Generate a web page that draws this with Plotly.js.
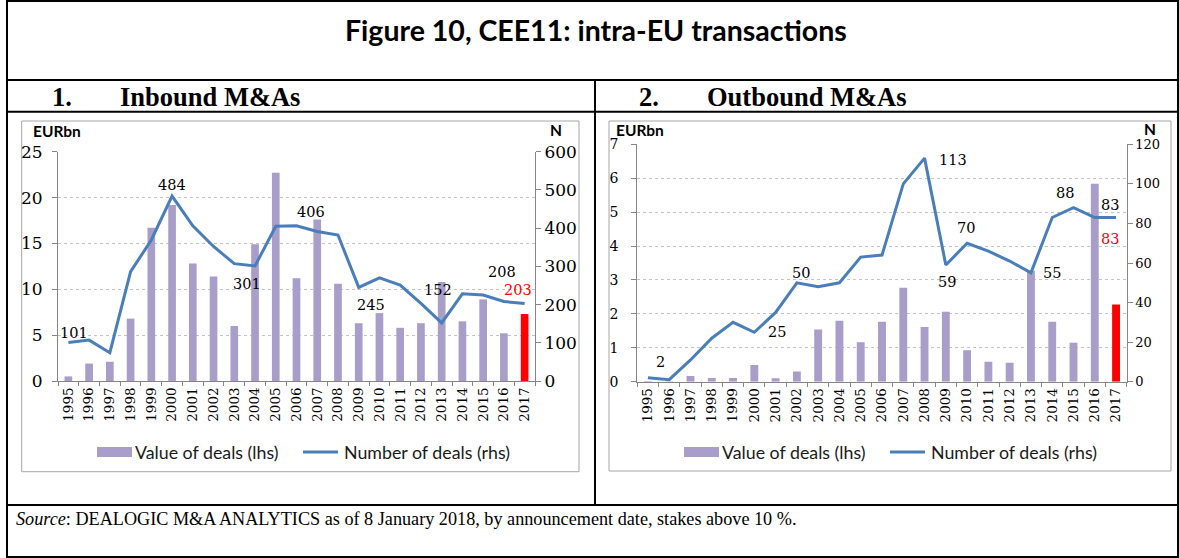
<!DOCTYPE html>
<html><head><meta charset="utf-8">
<script src="https://cdn.plot.ly/plotly-3.0.1.min.js"></script>
<style>html,body{margin:0;padding:0;background:#fff;} #chart{width:1179px;height:558px;}</style>
</head><body><div id="chart"></div>
<script>
// ---- data ----
const years = ['1995','1996','1997','1998','1999','2000','2001','2002','2003','2004','2005','2006','2007','2008','2009','2010','2011','2012','2013','2014','2015','2016','2017'];
const inboundValue = [0.5,1.9,2.1,6.8,16.7,19.2,12.8,11.4,6.0,14.9,22.7,11.2,17.6,10.6,6.3,7.4,5.8,6.3,10.8,6.5,8.9,5.2,7.3];
const inboundDeals = [101,107,74,286,369,484,406,352,307,301,405,406,391,382,245,270,251,203,152,228,225,208,203];
const outboundValue = [0.02,0.01,0.17,0.11,0.11,0.49,0.1,0.3,1.54,1.8,1.16,1.77,2.77,1.61,2.06,0.93,0.59,0.56,3.27,1.77,1.15,5.84,2.28];
const outboundDeals = [2,1,11,22,30,25,35,50,48,50,63,64,100,113,59,70,66,61,55,83,88,83,83];
const inboundLabelYears = ['1995','2000','2004','2006','2009','2013','2016','2017'];
const outboundLabelYears = ['1995','2000','2002','2008','2009','2010','2013','2015','2016','2017'];
const highlightYear = '2017';
const titleText = 'Figure 10, CEE11: intra-EU transactions';
const panel1 = 'Inbound M&amp;As';
const panel2 = 'Outbound M&amp;As';
const legendBar = 'Value of deals (lhs)';
const legendLine = 'Number of deals (rhs)';
const sourceText = '<i>Source</i>: DEALOGIC M&amp;A ANALYTICS as of 8 January 2018, by announcement date, stakes above 10 %.';

// ---- style / layout ----
const W = 1179, H = 558;
const px = x => x / W, py = y => 1 - y / H;
const BAR = '#a99dc9', RED = '#ff0000', LINE = '#4a7ebb', AX = '#868686';
const SERIF = 'DejaVu Serif', SANS = 'Lato';
const barColors = years.map(y => y === highlightYear ? RED : BAR);
const catRange = [-0.5, years.length - 0.5];

const traces = [
  {type:'bar', x:years, y:inboundValue, xaxis:'x', yaxis:'y', marker:{color:barColors}, showlegend:false},
  {type:'scatter', mode:'lines', x:years, y:inboundDeals, xaxis:'x', yaxis:'y2', line:{color:LINE, width:3}, showlegend:false},
  {type:'bar', x:years, y:outboundValue, xaxis:'x2', yaxis:'y3', marker:{color:barColors}, showlegend:false},
  {type:'scatter', mode:'lines', x:years, y:outboundDeals, xaxis:'x2', yaxis:'y4', line:{color:LINE, width:3}, showlegend:false}
];

function xax(domain, anchor){
  return {domain, anchor, type:'category', range:catRange, autorange:false, tickangle:-90,
    tickfont:{family:SERIF, size:13.5, color:'#000'},
    ticks:'outside', tickson:'boundaries', ticklen:4, tickcolor:AX, showline:true, linecolor:AX, linewidth:1,
    showgrid:false, zeroline:false, fixedrange:true};
}
function yaxL(domain, anchor, range, dtick, fs, standoff){
  return {domain, anchor, range, autorange:false, dtick, tick0:0, ticks:'outside', ticklen:5, tickcolor:AX, showline:true, linecolor:AX,
    showgrid:true, gridcolor:'#c4c4c4', griddash:'dot', gridwidth:1, zeroline:false,
    tickfont:{family:SERIF, size:fs, color:'#000'}, ticklabelstandoff:standoff};
}
function yaxR(overlay, anchor, range, dtick, fs, standoff){
  return {overlaying:overlay, side:'right', anchor, range, autorange:false, dtick, tick0:0, ticks:'outside', ticklen:5, tickcolor:AX,
    showline:true, linecolor:AX, showgrid:false, zeroline:false,
    tickfont:{family:SERIF, size:fs, color:'#000'}, ticklabelstandoff:standoff};
}

const annotations = [];
function txt(x, y, text, font, xanchor){
  annotations.push({xref:'paper', yref:'paper', x:px(x), y:py(y), text, showarrow:false, xanchor:xanchor||'center', yanchor:'middle', font});
}
txt(596, 30, titleText, {family:SANS, size:28.5, weight:700, color:'#000'});
txt(50, 97, '1.', {family:'Liberation Serif', size:26.5, weight:700, color:'#000'}, 'left');
txt(118, 97, panel1, {family:'Liberation Serif', size:26.5, weight:700, color:'#000'}, 'left');
txt(637, 97, '2.', {family:'Liberation Serif', size:26.5, weight:700, color:'#000'}, 'left');
txt(705, 97, panel2, {family:'Liberation Serif', size:26.5, weight:700, color:'#000'}, 'left');
txt(14, 519, sourceText, {family:'Liberation Serif', size:18.2, color:'#000'}, 'left');
txt(31, 131, 'EURbn', {family:SANS, size:15.5, weight:700, color:'#000'}, 'left');
txt(556, 130, 'N', {family:SANS, size:15.5, weight:700, color:'#000'});
txt(614, 130, 'EURbn', {family:SANS, size:15.5, weight:700, color:'#000'}, 'left');
txt(1150, 129, 'N', {family:SANS, size:15.5, weight:700, color:'#000'});
// legends
const legendFont = {family:SANS, size:17.8, color:'#1a1a1a'};
txt(133, 452, legendBar, legendFont, 'left');
txt(342, 452, legendLine, legendFont, 'left');
txt(720, 452, legendBar, legendFont, 'left');
txt(929, 452, legendLine, legendFont, 'left');

// data labels (x given as category index)
const inShift = {'1995':[6,9],'2000':[0,11],'2004':[-8,-18],'2006':[14,14],'2009':[12,-18],'2013':[-4,33],'2016':[-2,30],'2017':[-7,13]};
inboundLabelYears.forEach(y => {
  const i = years.indexOf(y);
  annotations.push({xref:'x', yref:'y2', x:i, y:inboundDeals[i], text:String(inboundDeals[i]), showarrow:false,
    xshift:inShift[y][0], yshift:inShift[y][1], font:{family:SERIF, size:14.5, color: y===highlightYear ? RED : '#000'}});
});
const outShift = {'1995':[13,16],'2000':[23,0],'2002':[4,10],'2008':[28,-2],'2009':[1,-17],'2010':[-1,15],'2013':[21,0],'2015':[-9,15],'2016':[15,13],'2017':[-6,-21]};
outboundLabelYears.forEach(y => {
  const i = years.indexOf(y);
  annotations.push({xref:'x2', yref:'y4', x:i, y:outboundDeals[i], text:String(outboundDeals[i]), showarrow:false,
    xshift:outShift[y][0], yshift:outShift[y][1], font:{family:SERIF, size:14.5, color: y===highlightYear ? RED : '#000'}});
});

const K = '#000';
function hline(y, x0, x1){ return {type:'line', xref:'paper', yref:'paper', x0:px(x0), x1:px(x1), y0:py(y), y1:py(y), line:{color:K, width:2}}; }
const shapes = [
  {type:'rect', xref:'paper', yref:'paper', x0:px(7), x1:px(1178), y0:py(557), y1:py(1), line:{color:K, width:2}},
  hline(80, 7, 1178), hline(111.7, 7, 1178), hline(505, 7, 1178),
  {type:'line', xref:'paper', yref:'paper', x0:px(595), x1:px(595), y0:py(80), y1:py(505), line:{color:K, width:2}},
  {type:'rect', xref:'paper', yref:'paper', x0:px(21.7), x1:px(579), y0:py(471.7), y1:py(121), line:{color:'#a6a6a6', width:1}},
  {type:'rect', xref:'paper', yref:'paper', x0:px(609), x1:px(1171), y0:py(471), y1:py(121), line:{color:'#a6a6a6', width:1}},
  // legend swatches
  {type:'rect', xref:'paper', yref:'paper', x0:px(97), x1:px(132), y0:py(457), y1:py(447), fillcolor:BAR, line:{width:0}},
  {type:'line', xref:'paper', yref:'paper', x0:px(303), x1:px(338), y0:py(452), y1:py(452), line:{color:LINE, width:3}},
  {type:'rect', xref:'paper', yref:'paper', x0:px(684), x1:px(719), y0:py(457), y1:py(447), fillcolor:BAR, line:{width:0}},
  {type:'line', xref:'paper', yref:'paper', x0:px(890), x1:px(925), y0:py(452), y1:py(452), line:{color:LINE, width:3}}
];

const layout = {
  width:W, height:H, autosize:false, margin:{l:0, r:0, t:0, b:0, pad:0},
  paper_bgcolor:'#fff', plot_bgcolor:'rgba(0,0,0,0)', showlegend:false, bargap:0.63,
  xaxis: xax([px(58), px(535)], 'y'),
  yaxis: yaxL([py(381), py(151.7)], 'x', [0,25], 5, 17, 6),
  yaxis2: yaxR('y', 'x', [0,600], 100, 17, 0),
  xaxis2: xax([px(637.3), px(1126.7)], 'y3'),
  yaxis3: yaxL([py(381.7), py(144.3)], 'x2', [0,7], 1, 14, 10),
  yaxis4: yaxR('y3', 'x2', [0,120], 20, 13, 0),
  annotations, shapes
};
Plotly.newPlot('chart', traces, layout, {staticPlot:true, displayModeBar:false});
</script></body></html>
